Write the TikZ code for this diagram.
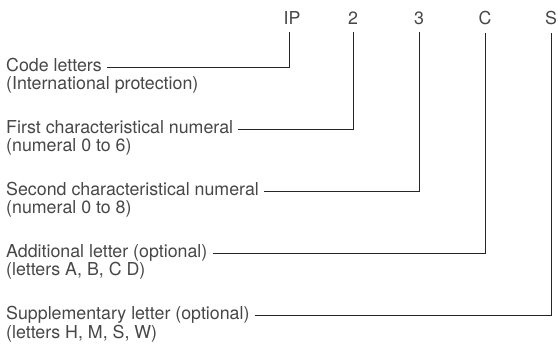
\documentclass[tikz,border=0pt]{standalone}
\usepackage{fontspec}
\setmainfont{TeX Gyre Heros}
\usepackage{tikz}
\usetikzlibrary{positioning}
\definecolor{inkgray}{HTML}{474747}
\definecolor{wiregray}{HTML}{262626}
\tikzstyle{code} = [inner xsep=0pt, inner ysep=7pt, anchor=base, text=inkgray]
\tikzstyle{partname} = [inner sep=0pt, text height=9pt, text depth=0pt, anchor=base west, text=inkgray]
\tikzstyle{partnote} = [inner sep=0pt, anchor=base west, text=inkgray]
\tikzstyle{leader} = [draw=wiregray, line width=0.9pt, shorten <=5pt]

\begin{document}
\begin{tikzpicture}[x=1pt, y=-1pt, font=\fontsize{17.8pt}{17.5pt}\selectfont]
        \useasboundingbox (0,0) rectangle (558,344);

		% code letters on top
		\node (ip)    [code] at (292,25) {IP};
		\node (two)   [code] at (353,25) {2};
		\node (three) [code] at (419,25) {3};
		\node (c)     [code] at (485,25) {C};
		\node (s)     [code] at (551,25) {S};

		% explanations
		\node (pcode)   [partname] at (6,71.5)  {Code letters};
		\node (ncode)   [partnote] at (6,90)    {(International protection)};
		\node (pfirst)  [partname] at (6,133.5) {First characteristical numeral};
		\node (nfirst)  [partnote] at (6,152)   {(numeral 0 to 6)};
		\node (psecond) [partname] at (6,195.5) {Second characteristical numeral};
		\node (nsecond) [partnote] at (6,214)   {(numeral 0 to 8)};
		\node (padd)    [partname] at (6,257.5) {Additional letter (optional)};
		\node (nadd)    [partnote] at (6,276)   {(letters A, B, C D)};
		\node (psupp)   [partname] at (6,320)   {Supplementary letter (optional)};
		\node (nsupp)   [partnote] at (6,338.5) {(letters H, M, S, W)};

		 % Draw edges
		 \path [leader] (pcode.east) -| ([xshift=-3pt]ip.south);
		 \path [leader] (pfirst.east) -| (two.south);
		 \path [leader] (psecond.east) -| (three.south);
		 \path [leader] (padd.east) -| (c.south);
		 \path [leader] (psupp.east) -| (s.south);

         \end{tikzpicture}
\end{document}
